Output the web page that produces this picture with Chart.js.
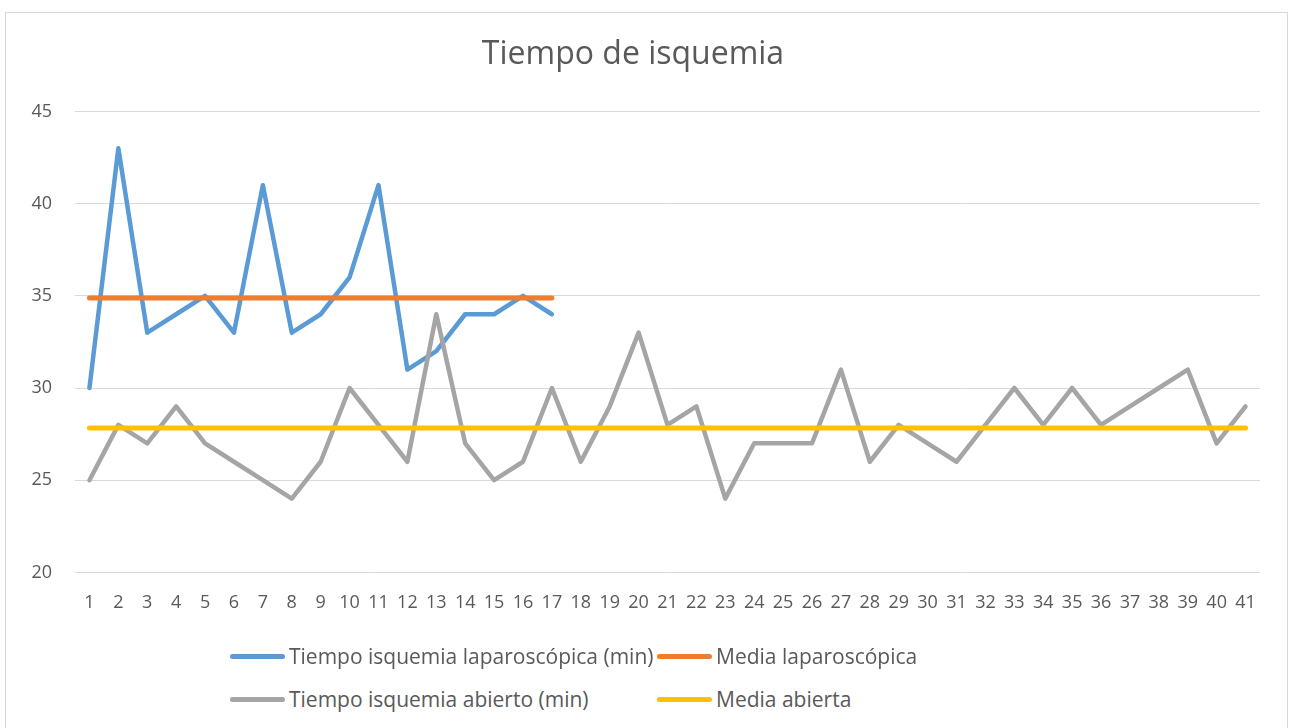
<!DOCTYPE html>
<html>
<head>
<meta charset="utf-8">
<script src="https://cdn.jsdelivr.net/npm/chart.js@4/dist/chart.umd.min.js"></script>
<style>
  html, body { margin: 0; padding: 0; background: #fff; }
  body { width: 1294px; height: 728px; position: relative; overflow: hidden; font-family: "Open Sans", sans-serif; }
  #box { position: absolute; left: 5px; top: 12px; width: 1283px; height: 730px; border: 1px solid #d9d9d9; box-sizing: border-box; }
  #wrap { position: absolute; left: 0; top: 0; width: 1281px; height: 630px; }
  .leg { position: absolute; display: flex; align-items: center; color: #595959; font-size: 21px; white-space: nowrap; }
  .leg span.sw { display: inline-block; width: 55px; height: 5px; border-radius: 3px; margin-right: 4px; }
</style>
</head>
<body>
<div id="box">
  <div id="wrap"><canvas id="chart"></canvas></div>
</div>
<div id="legend"></div>
<script>
// --- Data ---
const categorias = ['1','2','3','4','5','6','7','8','9','10','11','12','13','14','15','16','17','18','19','20',
                    '21','22','23','24','25','26','27','28','29','30','31','32','33','34','35','36','37','38','39','40','41'];

const tiempoLaparoscopica = [30, 43, 33, 34, 35, 33, 41, 33, 34, 36, 41, 31, 32, 34, 34, 35, 34];
const mediaLaparoscopica  = [34.88, 34.88, 34.88, 34.88, 34.88, 34.88, 34.88, 34.88, 34.88,
                             34.88, 34.88, 34.88, 34.88, 34.88, 34.88, 34.88, 34.88];

const tiempoAbierto = [25, 28, 27, 29, 27, 26, 25, 24, 26, 30, 28, 26, 34, 27, 25, 26, 30, 26, 29, 33,
                       28, 29, 24, 27, 27, 27, 31, 26, 28, 27, 26, 28, 30, 28, 30, 28, 29, 30, 31, 27, 29];
const mediaAbierta  = [27.83, 27.83, 27.83, 27.83, 27.83, 27.83, 27.83, 27.83, 27.83, 27.83,
                       27.83, 27.83, 27.83, 27.83, 27.83, 27.83, 27.83, 27.83, 27.83, 27.83,
                       27.83, 27.83, 27.83, 27.83, 27.83, 27.83, 27.83, 27.83, 27.83, 27.83,
                       27.83, 27.83, 27.83, 27.83, 27.83, 27.83, 27.83, 27.83, 27.83, 27.83, 27.83];

const yTicks = [20, 25, 30, 35, 40, 45];

// --- Style ---
const FONT = '"Open Sans", sans-serif';
const TEXT = '#595959';

function serie(label, data, color, width, order) {
  return {
    label, data, borderColor: color, backgroundColor: color,
    borderWidth: width, pointRadius: 0, tension: 0,
    borderCapStyle: 'round', borderJoinStyle: 'round', order
  };
}

const ctx = document.getElementById('chart').getContext('2d');

const chart = new Chart(ctx, {
  type: 'line',
  data: {
    labels: categorias,
    datasets: [
      serie('Tiempo isquemia laparoscópica (min)', tiempoLaparoscopica, '#5B9BD5', 4.5, 4),
      serie('Media laparoscópica', mediaLaparoscopica, '#ED7D31', 5, 3),
      serie('Tiempo isquemia abierto (min)', tiempoAbierto, '#A5A5A5', 4.5, 2),
      serie('Media abierta', mediaAbierta, '#FFC000', 5, 1)
    ]
  },
  options: {
    responsive: true,
    maintainAspectRatio: false,
    animation: false,
    layout: { padding: { left: 0, right: 27, top: 0, bottom: 9 } },
    plugins: {
      legend: { display: false },
      tooltip: { enabled: false },
      title: {
        display: true,
        text: 'Tiempo de isquemia',
        color: TEXT,
        font: { family: FONT, size: 32, weight: 'normal' },
        padding: { top: 23, bottom: 37 }
      }
    },
    scales: {
      x: {
        offset: true,
        grid: { display: false, drawTicks: false },
        border: { display: false },
        ticks: { color: TEXT, font: { family: FONT, size: 18 }, padding: 20, maxRotation: 0, autoSkip: false }
      },
      y: {
        min: 20, max: 45,
        afterBuildTicks: s => { s.ticks = yTicks.map(v => ({ value: v })); },
        afterFit: s => { s.width = 69; },
        grid: { color: '#d9d9d9', lineWidth: 1, drawTicks: false },
        border: { display: false },
        ticks: { color: TEXT, font: { family: FONT, size: 18 }, padding: 23 }
      }
    }
  }
});

// --- HTML legend (Excel-style two columns) ---
const legendPos = [
  { left: 230, top: 656 }, { left: 657, top: 656 },
  { left: 230, top: 699 }, { left: 657, top: 699 }
];
const legend = document.getElementById('legend');
chart.data.datasets.forEach((ds, i) => {
  const d = document.createElement('div');
  d.className = 'leg';
  d.style.left = legendPos[i].left + 'px';
  d.style.top = (legendPos[i].top - 14) + 'px';
  d.style.height = '28px';
  d.innerHTML = `<span class="sw" style="background:${ds.borderColor}"></span>${ds.label}`;
  legend.appendChild(d);
});
</script>
</body>
</html>
